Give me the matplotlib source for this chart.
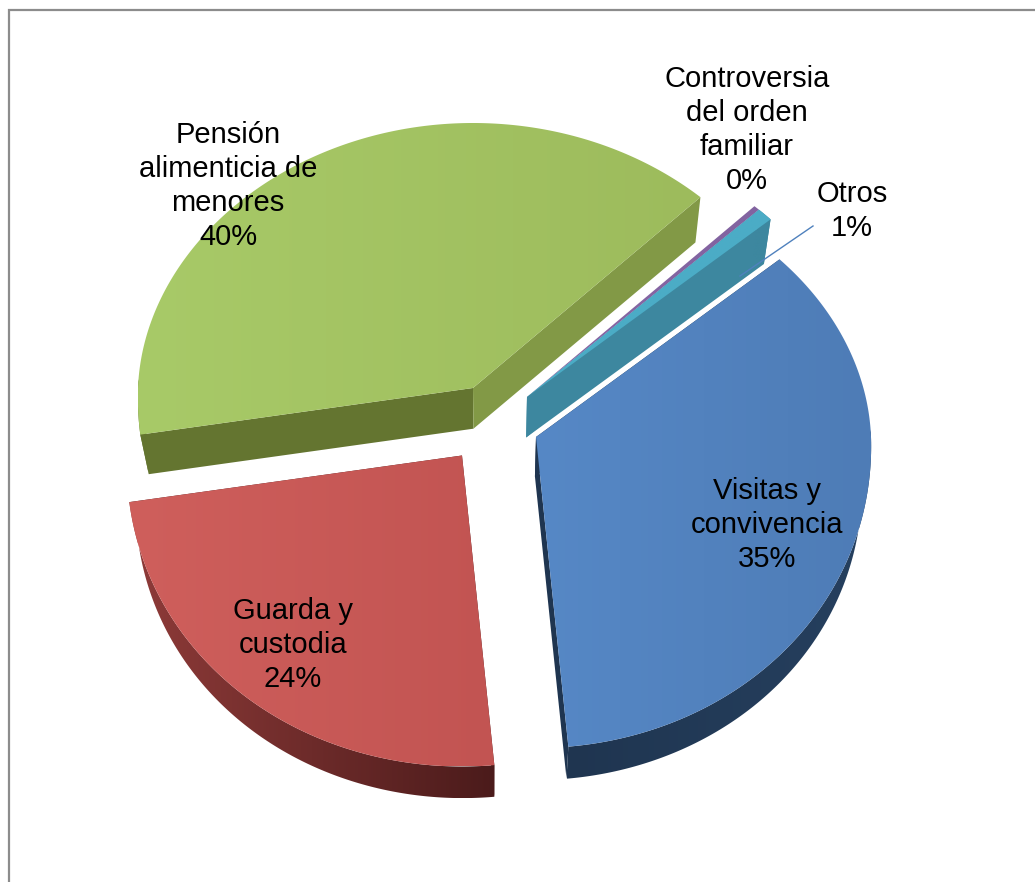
import numpy as np
import matplotlib
matplotlib.use("Agg")
import matplotlib.pyplot as plt
from matplotlib.patches import Polygon
from matplotlib.colors import LinearSegmentedColormap

# ---- data ----
categories = ["Visitas y\nconvivencia", "Guarda y\ncustodia", "Pensión\nalimenticia de\nmenores",
              "Controversia\ndel orden\nfamiliar", "Otros"]
values = [35.2, 24.1, 39.6, 0.3, 0.8]

# ---- style / layout ----
start_angle = 47.9
apexes = [(536, 437), (462, 455.5), (473, 388), (527, 397), (527, 397)]
top_left = ["#5688c6", "#cf5f5c", "#a8ca68", "#8767a5", "#4bacc6"]
top_right = ["#4e7cb6", "#c25452", "#9dbb5c", "#8263a0", "#4bacc6"]
arc_left = ["#1f3550", "#8f3b39", "#647530", "#604a75", "#3d879f"]
arc_right = ["#26405f", "#4b1b1b", "#647530", "#604a75", "#3d879f"]
wall_start = ["#1f3550", "#4b1b1b", "#647530", "#604a75", "#3d879f"]
wall_end = ["#1f3550", "#4b1b1b", "#829946", "#604a75", "#3d879f"]
label_xy = [(767, 525), (293, 645), (228, 186), (747, 130), (852, 211)]
draw_order = [2, 3, 4, 1, 0]
RX, RY_BACK, RY_FRONT = 335.0, 265.0, 311.0

plt.rcParams["font.family"] = ["Liberation Sans", "DejaVu Sans"]
fig = plt.figure(figsize=(10.35, 8.82), dpi=100, facecolor="white")
ax = fig.add_axes([0, 0, 1, 1])
ax.axis("off")


def top_point(apex, theta):
    t = np.radians(theta)
    c, s = np.cos(t), np.sin(t)
    ry = np.where(c > 0, RY_BACK, RY_FRONT)
    return apex[0] + RX * (1 - 0.03 * c) * s, apex[1] - ry * c


def to_bottom(x, y):
    return 0.976 * x + 11.8, 0.976 * y + 50.0


def gradient_fill(poly, c_left, c_right, z):
    poly = np.asarray(poly)
    patch = Polygon(poly, closed=True, fc="none", ec="none", transform=ax.transData)
    ax.add_patch(patch)
    cmap = LinearSegmentedColormap.from_list("g", [c_left, c_right])
    im = ax.imshow(np.linspace(0, 1, 256)[None, :], cmap=cmap, aspect="auto", vmin=0, vmax=1,
                   extent=[poly[:, 0].min(), poly[:, 0].max(), poly[:, 1].max(), poly[:, 1].min()],
                   interpolation="bilinear", zorder=z)
    im.set_clip_path(patch)


shares = np.array(values) / np.sum(values) * 360
edges = start_angle + np.concatenate([[0], np.cumsum(shares)])

for i in draw_order:
    apex = apexes[i]
    n = max(int(shares[i] * 2), 6)
    th = np.linspace(edges[i], edges[i + 1], n + 1)
    xa, ya = top_point(apex, th)
    xb, yb = to_bottom(xa, ya)
    ax0, ay0 = to_bottom(*apex)

    # radial walls (the thinnest slice's walls are hidden behind its neighbour)
    if shares[i] > 2:
        ax.add_patch(Polygon([apex, (xa[0], ya[0]), (xb[0], yb[0]), (ax0, ay0)], closed=True,
                             fc=wall_start[i], ec="none", zorder=2))
        ax.add_patch(Polygon([apex, (xa[-1], ya[-1]), (xb[-1], yb[-1]), (ax0, ay0)], closed=True,
                             fc=wall_end[i], ec="none", zorder=2))

    # curved outer wall: only the part facing the viewer
    tn = np.mod(th, 360)
    keep = ((tn > 88) & (tn < 272)) | (2 < shares[i] < 5)
    if keep.sum() >= 2:
        wall = np.vstack([np.column_stack([xa[keep], ya[keep]]),
                          np.column_stack([xb[keep], yb[keep]])[::-1]])
        gradient_fill(wall, arc_left[i], arc_right[i], 2.5)

    # top face with a soft left-to-right gradient
    gradient_fill(np.vstack([[apex], np.column_stack([xa, ya])]), top_left[i], top_right[i], 3)

ax.set_xlim(0, 1035)
ax.set_ylim(882, 0)

# frame: only left and top sides are visible
ax.plot([9, 9, 1035], [882, 9.5, 9.5], color="#8c8c8c", lw=1.6, solid_joinstyle="miter", zorder=1, clip_on=False)

# leader line for the small slice
ax.plot([813, 740], [226, 276], color="#4f81bd", lw=1.0, zorder=5)

total = np.sum(values)
for name, v, (lx, ly) in zip(categories, values, label_xy):
    ax.text(lx, ly, f"{name}\n{round(v / total * 100):d}%", ha="center", va="center",
            ma="center", fontsize=21, color="black", linespacing=1.27, zorder=6)

fig.savefig("out.png", dpi=100, facecolor="white")
